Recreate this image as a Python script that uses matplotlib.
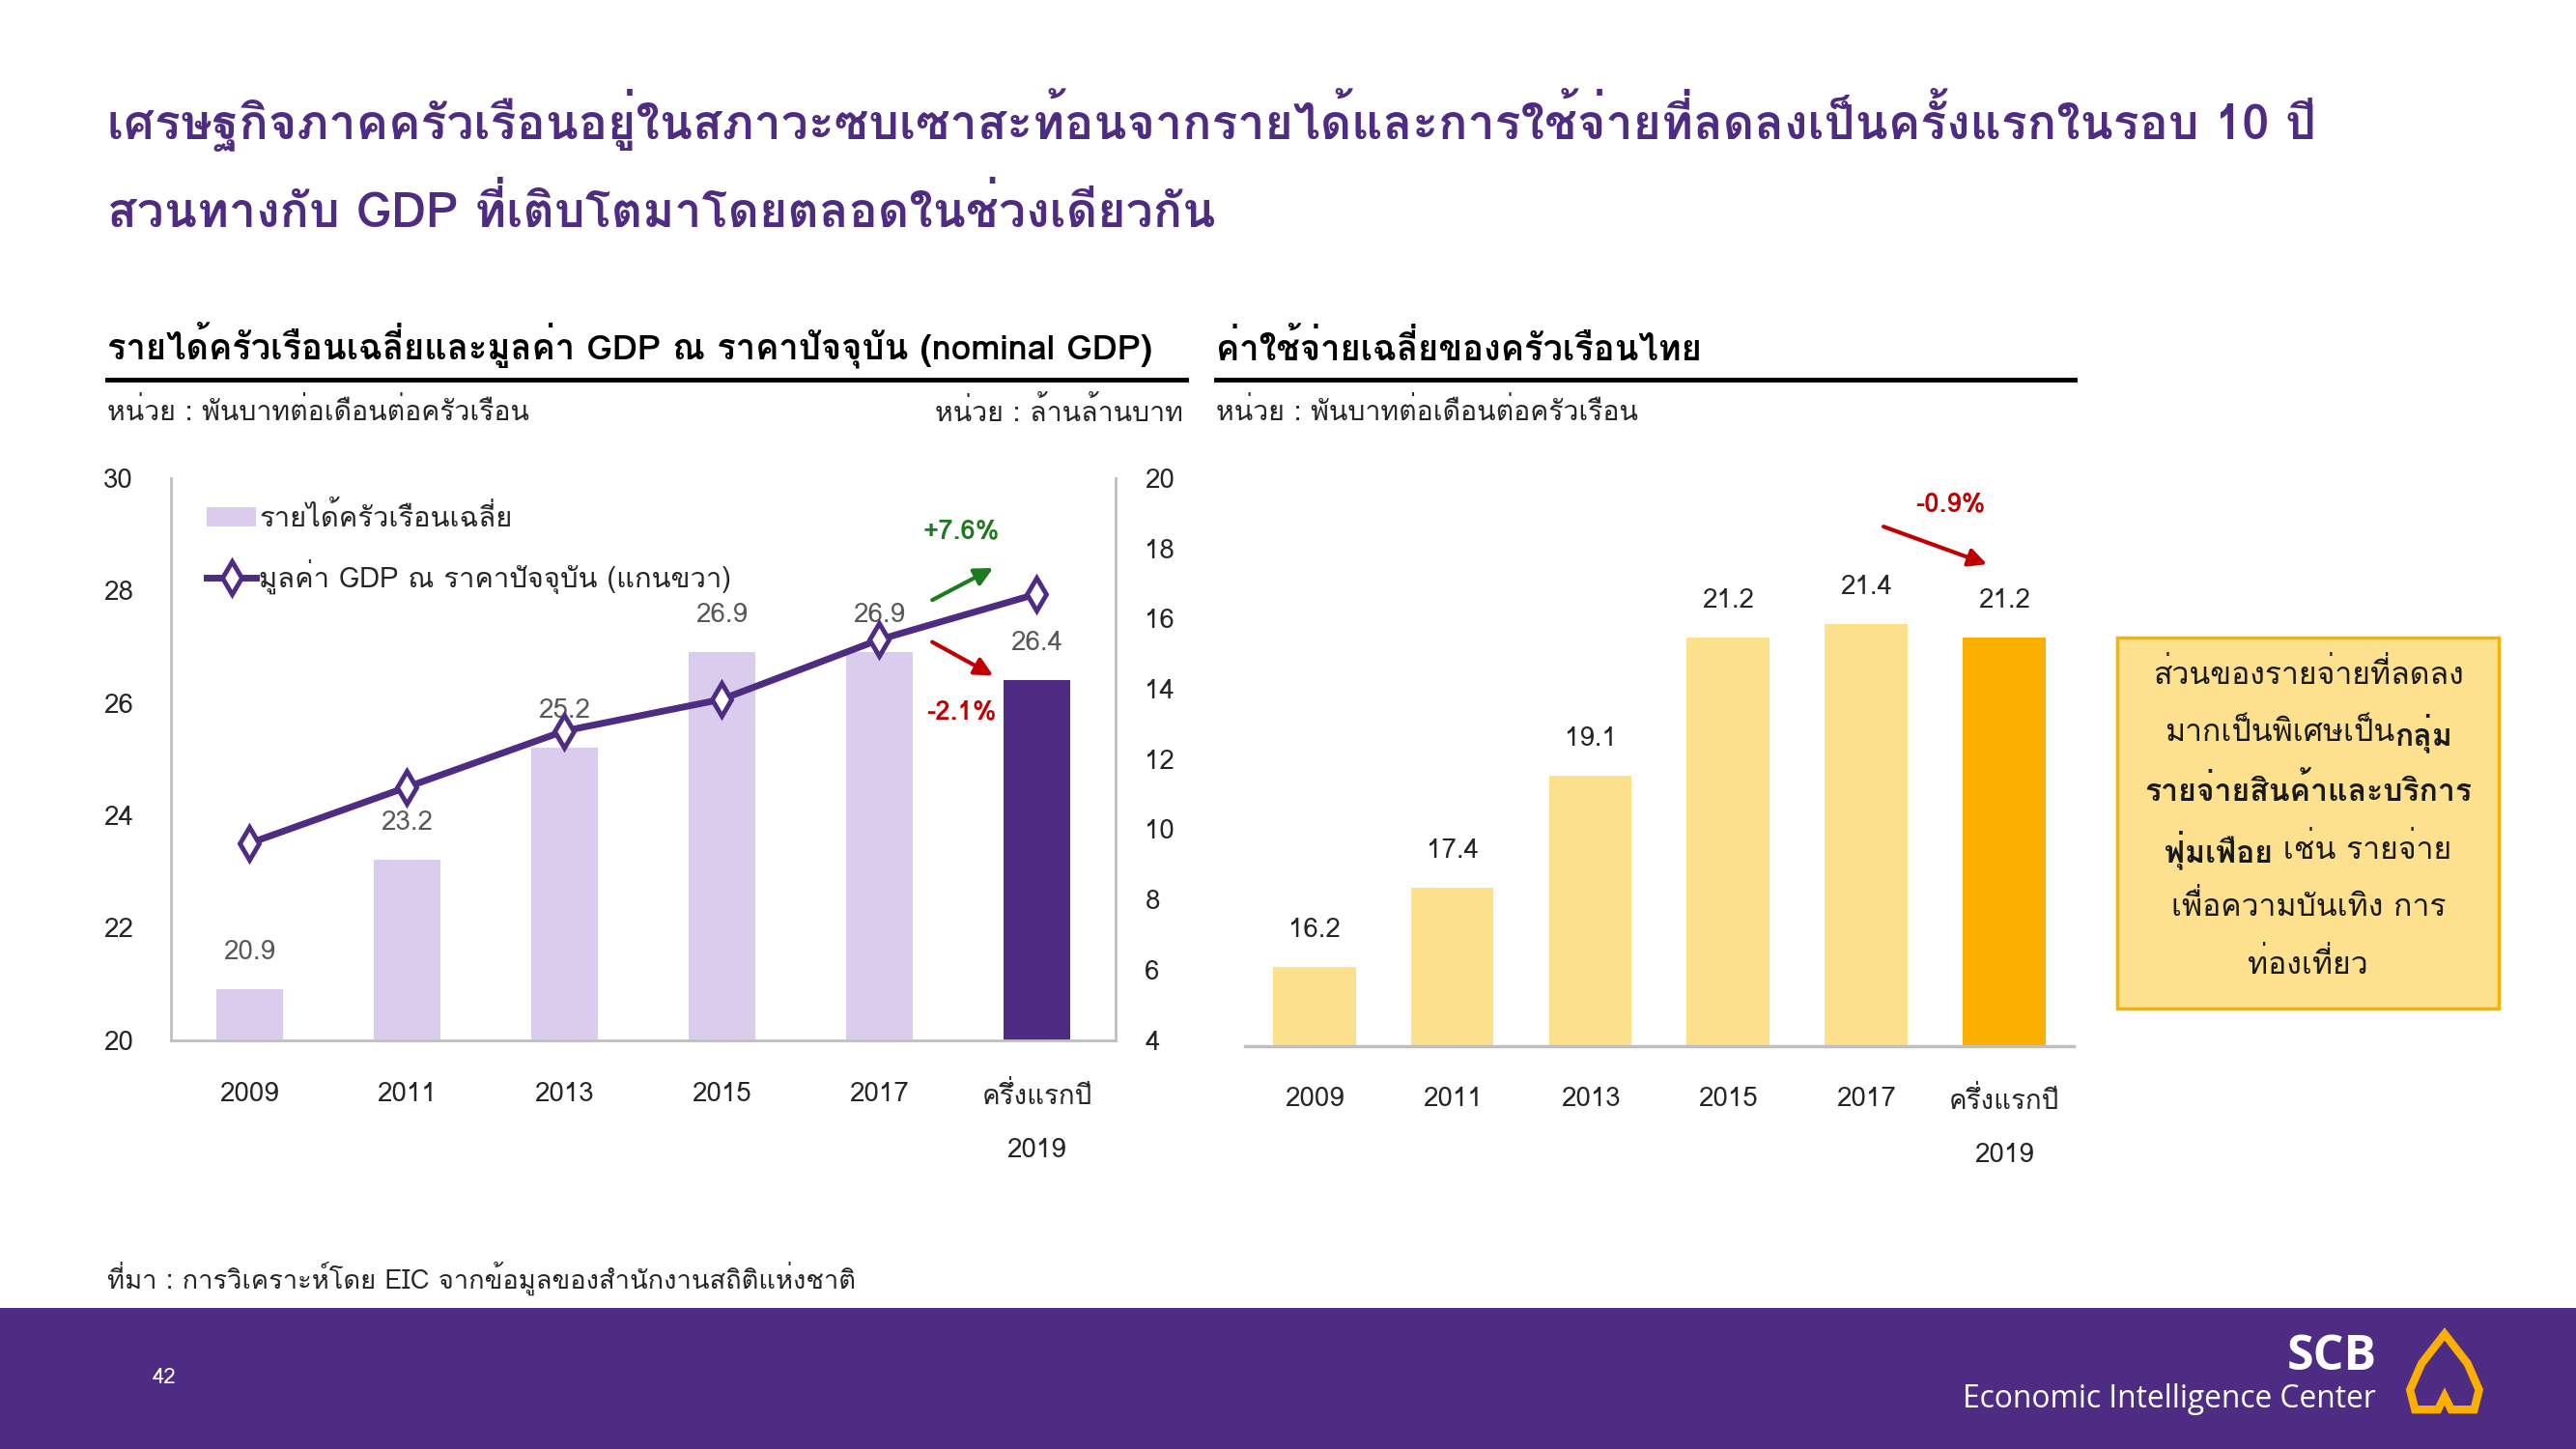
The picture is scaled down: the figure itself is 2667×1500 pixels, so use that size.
import matplotlib
matplotlib.use('Agg')
import matplotlib.pyplot as plt
from matplotlib import font_manager as fm
from matplotlib import patheffects as pe
from matplotlib.ft2font import FT2Font
from matplotlib.patches import Rectangle, Polygon, Patch, FancyArrowPatch
from matplotlib.lines import Line2D

# ---------------- data ----------------
categories = ['2009', '2011', '2013', '2015', '2017', 'ครึ่งแรกปี\n2019']
income = [20.9, 23.2, 25.2, 26.9, 26.9, 26.4]          # left axis, thousand baht / month / household
gdp = [9.6, 11.2, 12.8, 13.7, 15.4, 16.7]              # right axis, trillion baht
expenditure = [16.2, 17.4, 19.1, 21.2, 21.4, 21.2]     # thousand baht / month / household
income_ticks = [20, 22, 24, 26, 28, 30]
gdp_ticks = [4, 6, 8, 10, 12, 14, 16, 18, 20]

title_lines = ['เศรษฐกิจภาคครัวเรือนอยู่ในสภาวะซบเซาสะท้อนจากรายได้และการใช้จ่ายที่ลดลงเป็นครั้งแรกในรอบ 10 ปี',
               'สวนทางกับ GDP ที่เติบโตมาโดยตลอดในช่วงเดียวกัน']
left_header = 'รายได้ครัวเรือนเฉลี่ยและมูลค่า GDP ณ ราคาปัจจุบัน (nominal GDP)'
right_header = 'ค่าใช้จ่ายเฉลี่ยของครัวเรือนไทย'
unit_left = 'หน่วย : พันบาทต่อเดือนต่อครัวเรือน'
unit_right_axis = 'หน่วย : ล้านล้านบาท'
unit_right = 'หน่วย : พันบาทต่อเดือนต่อครัวเรือน'
legend_labels = ['รายได้ครัวเรือนเฉลี่ย', 'มูลค่า GDP ณ ราคาปัจจุบัน (แกนขวา)']
source = 'ที่มา : การวิเคราะห์โดย EIC จากข้อมูลของสำนักงานสถิติแห่งชาติ'
box_lines = [[('ส่วนของรายจ่ายที่ลดลง', 'normal')],
             [('มากเป็นพิเศษเป็น', 'normal'), ('กลุ่ม', 'bold')],
             [('รายจ่ายสินค้าและบริการ', 'bold')],
             [('ฟุ่มเฟือย', 'bold'), (' เช่น รายจ่าย', 'normal')],
             [('เพื่อความบันเทิง การ', 'normal')],
             [('ท่องเที่ยว', 'normal')]]

# ---------------- fonts ----------------
def thai_fonts():
    out = []
    for f in fm.fontManager.ttflist:
        try:
            cm = FT2Font(f.fname).get_charmap()
        except Exception:
            continue
        if 0x0E01 in cm and 0x0E2D in cm:
            out.append(f)
    return out


TF = thai_fonts()
pref = ['Loma', 'Garuda', 'Waree', 'Umpush', 'Sawasdee', 'Tlwg Typo', 'Norasi', 'Kinnari', 'Laksaman',
        'Sarabun', 'Noto Sans Thai Looped', 'Noto Sans Thai', 'Kanit', 'Prompt']
names = []
for f in TF:
    if f.name not in names:
        names.append(f.name)
names.sort(key=lambda n: pref.index(n) if n in pref else len(pref))
THAI = names[0] if names else 'DejaVu Sans'


def weight_num(w):
    if isinstance(w, str):
        return {'bold': 700, 'normal': 400, 'regular': 400, 'light': 300}.get(w, 400)
    return w


HAS_BOLD = any(f.name == THAI and weight_num(f.weight) >= 600 for f in TF)
FAM = [THAI, 'DejaVu Sans']
plt.rcParams['font.family'] = FAM

PURPLE = '#4F2C83'
LIGHT_PURPLE = '#D9CCEC'
LIGHT_YELLOW = '#FDE08C'
ORANGE = '#FBAF00'
RED = '#C00000'
GREEN = '#1E7A1E'

W, H = 2667, 1500
fig = plt.figure(figsize=(W / 100, H / 100), dpi=100, facecolor='white')


def P(x, y):
    """preview pixel (1568x882 grid) -> figure fraction"""
    return x / 1568, 1 - y / 882


renderer = fig.canvas.get_renderer()


def fit(t, width_s):
    w = t.get_window_extent(renderer).width
    if w > 0:
        t.set_fontsize(t.get_fontsize() * (width_s * W / 1568) / w)
    return t


def btext(x, y, s, color, fs, stroke=1.2, **kw):
    """bold text; falls back to a stroked outline when the Thai family lacks a bold face"""
    t = fig.text(x, y, s, color=color, fontsize=fs, fontweight='bold', **kw)
    if not HAS_BOLD:
        t.set_path_effects([pe.withStroke(linewidth=stroke, foreground=color)])
    return t


# ---------------- titles ----------------
t = btext(*P(65, 73), title_lines[0], PURPLE, 34, stroke=2.2, va='center', ha='left')
fit(t, 1410 - 65)
btext(*P(65, 128), title_lines[1], PURPLE, t.get_fontsize(), stroke=2.2, va='center', ha='left')

h = btext(*P(65, 210), left_header, 'black', 22, stroke=1.3, va='center')
fit(h, 702 - 65)
btext(*P(740, 212), right_header, 'black', h.get_fontsize(), stroke=1.3, va='center')
fig.add_artist(Line2D([P(65, 0)[0], P(722, 0)[0]], [P(0, 231)[1]] * 2, transform=fig.transFigure,
                      color='black', lw=3.5))
fig.add_artist(Line2D([P(740, 0)[0], P(1263, 0)[0]], [P(0, 231)[1]] * 2, transform=fig.transFigure,
                      color='black', lw=3.5))
u = fig.text(*P(65, 251), unit_left, fontsize=18, color='#262626', va='center')
fit(u, 322 - 65)
fig.text(*P(720, 251), unit_right_axis, fontsize=u.get_fontsize(), color='#262626', va='center', ha='right')
fig.text(*P(740, 251), unit_right, fontsize=u.get_fontsize(), color='#262626', va='center')

TICK_FS = 20
LABEL_FS = 20

# ---------------- left chart ----------------
x0, y1 = P(104, 633)
x1, y2 = P(679, 291)
ax = fig.add_axes([x0, y1, x1 - x0, y2 - y1])
xs = list(range(len(categories)))
bar_colors = [LIGHT_PURPLE] * (len(categories) - 1) + [PURPLE]
bars = ax.bar(xs, income, width=0.42, color=bar_colors, zorder=2)
ax.set_ylim(income_ticks[0], income_ticks[-1])
ax.set_xlim(-0.5, len(categories) - 0.5)
ax.set_yticks(income_ticks)
ax.set_xticks(xs)
ax.set_xticklabels(categories, linespacing=2.45, va='top')
ax.tick_params(axis='both', length=0, labelsize=TICK_FS, colors='#262626')
ax.tick_params(axis='y', pad=28)
ax.tick_params(axis='x', pad=31)
ax.spines['top'].set_visible(False)
for s in ['left', 'right', 'bottom']:
    ax.spines[s].set_color('#BFBFBF')
    ax.spines[s].set_linewidth(2)
ax.bar_label(bars, labels=[f'{v:.1f}' for v in income], padding=18, fontsize=LABEL_FS, color='#595959')

axr = ax.twinx()
axr.set_ylim(gdp_ticks[0], gdp_ticks[-1])
axr.set_yticks(gdp_ticks)
axr.tick_params(axis='y', length=0, labelsize=TICK_FS, colors='#262626', pad=22)
for s in axr.spines.values():
    s.set_visible(False)
axr.plot(xs, gdp, color=PURPLE, lw=5, marker='d', markersize=17, markerfacecolor='white',
         markeredgecolor=PURPLE, markeredgewidth=3.5, zorder=5)

leg = ax.legend(handles=[Patch(facecolor=LIGHT_PURPLE, edgecolor='none'),
                         Line2D([0], [0], color=PURPLE, lw=5, marker='d', markersize=17, markerfacecolor='white',
                                markeredgecolor=PURPLE, markeredgewidth=3.5)],
                labels=legend_labels, loc='upper left', bbox_to_anchor=((126 - 104) / 575, (633 - 306) / 342),
                frameon=False, fontsize=21, handlelength=1.75, handletextpad=0.1, labelspacing=0.95,
                borderaxespad=0, borderpad=0)
for txt in leg.get_texts():
    txt.set_color('#262626')


def arrow(p_from, p_to, color):
    fig.add_artist(FancyArrowPatch(P(*p_from), P(*p_to), transform=fig.transFigure,
                                   arrowstyle='-|>', mutation_scale=28, color=color, lw=3))


arrow((566, 366), (606, 345), GREEN)
arrow((566, 390), (606, 412), RED)
btext(*P(585, 323), '+7.6%', GREEN, 20, ha='center', va='center')
btext(*P(585, 433), '-2.1%', RED, 20, ha='center', va='center')

# ---------------- right chart ----------------
x0, y1 = P(758, 637)
x1, y2 = P(1262, 291)
ax2 = fig.add_axes([x0, y1, x1 - x0, y2 - y1])
exp_colors = [LIGHT_YELLOW] * (len(categories) - 1) + [ORANGE]
bars2 = ax2.bar(xs, expenditure, width=0.6, color=exp_colors, zorder=2)
ax2.set_ylim(15, 23.62)
ax2.set_xlim(-0.5, len(categories) - 0.5)
ax2.set_yticks([])
ax2.set_xticks(xs)
ax2.set_xticklabels(categories, linespacing=2.45, va='top')
ax2.tick_params(axis='x', length=0, labelsize=TICK_FS, colors='#262626', pad=30)
for s in ['top', 'left', 'right']:
    ax2.spines[s].set_visible(False)
ax2.spines['bottom'].set_color('#BFBFBF')
ax2.spines['bottom'].set_linewidth(2.5)
ax2.bar_label(bars2, labels=[f'{v:.1f}' for v in expenditure], padding=18, fontsize=LABEL_FS, color='#262626')

arrow((1145, 320), (1211, 344), RED)
btext(*P(1187, 307), '-0.9%', RED, 20, ha='center', va='center')

# ---------------- text box ----------------
bx0, by0 = P(1289, 614)
bx1, by1 = P(1521, 388)
fig.add_artist(Rectangle((bx0, by0), bx1 - bx0, by1 - by0, transform=fig.transFigure,
                         facecolor='#FDE18F', edgecolor='#F4B400', lw=2.5))
BOX_FS = 23
line_ys = [411, 446, 481, 517, 552, 587]
for parts, ly in zip(box_lines, line_ys):
    widths = []
    for txt, wt in parts:
        tt = fig.text(0, 0, txt, fontsize=BOX_FS, fontweight=wt)
        widths.append(tt.get_window_extent(renderer).width / W)
        tt.remove()
    total = sum(widths)
    start = P(1405, 0)[0] - total / 2
    for (txt, wt), wd in zip(parts, widths):
        if wt == 'bold':
            btext(start, P(0, ly)[1], txt, '#1A1A1A', BOX_FS, stroke=1.4, va='center', ha='left')
        else:
            fig.text(start, P(0, ly)[1], txt, fontsize=BOX_FS, color='#1A1A1A', va='center', ha='left')
        start += wd

# ---------------- source & footer ----------------
s = fig.text(*P(65, 778), source, fontsize=17, color='#262626', va='center')
fit(s, 520 - 65)

fy0 = P(0, 882)[1]
fy1 = P(0, 796)[1]
fig.add_artist(Rectangle((0, fy0), 1, fy1 - fy0, transform=fig.transFigure, facecolor=PURPLE,
                         edgecolor='none'))
fig.text(*P(100, 839), '42', color='white', fontsize=16, va='center', ha='center')
fig.text(*P(1447, 826), 'SCB', color='white', fontsize=36, fontweight='bold', va='center', ha='right',
         family=['Open Sans', 'DejaVu Sans'])
eic = fig.text(*P(1446, 852), 'Economic Intelligence Center', color='white', fontsize=22, va='center',
               ha='right', family=['Open Sans', 'DejaVu Sans'])
fit(eic, 1446 - 1194)
logo_pts = [(1488, 812), (1474, 830), (1467, 846), (1470, 858), (1484, 858), (1488, 850), (1492, 858),
            (1506, 858), (1509, 846), (1502, 830)]
fig.add_artist(Polygon([P(*p) for p in logo_pts], closed=True, transform=fig.transFigure, facecolor='none',
                       edgecolor=ORANGE, lw=6, joinstyle='miter'))

fig.savefig('out.png', dpi=100, facecolor='white')
